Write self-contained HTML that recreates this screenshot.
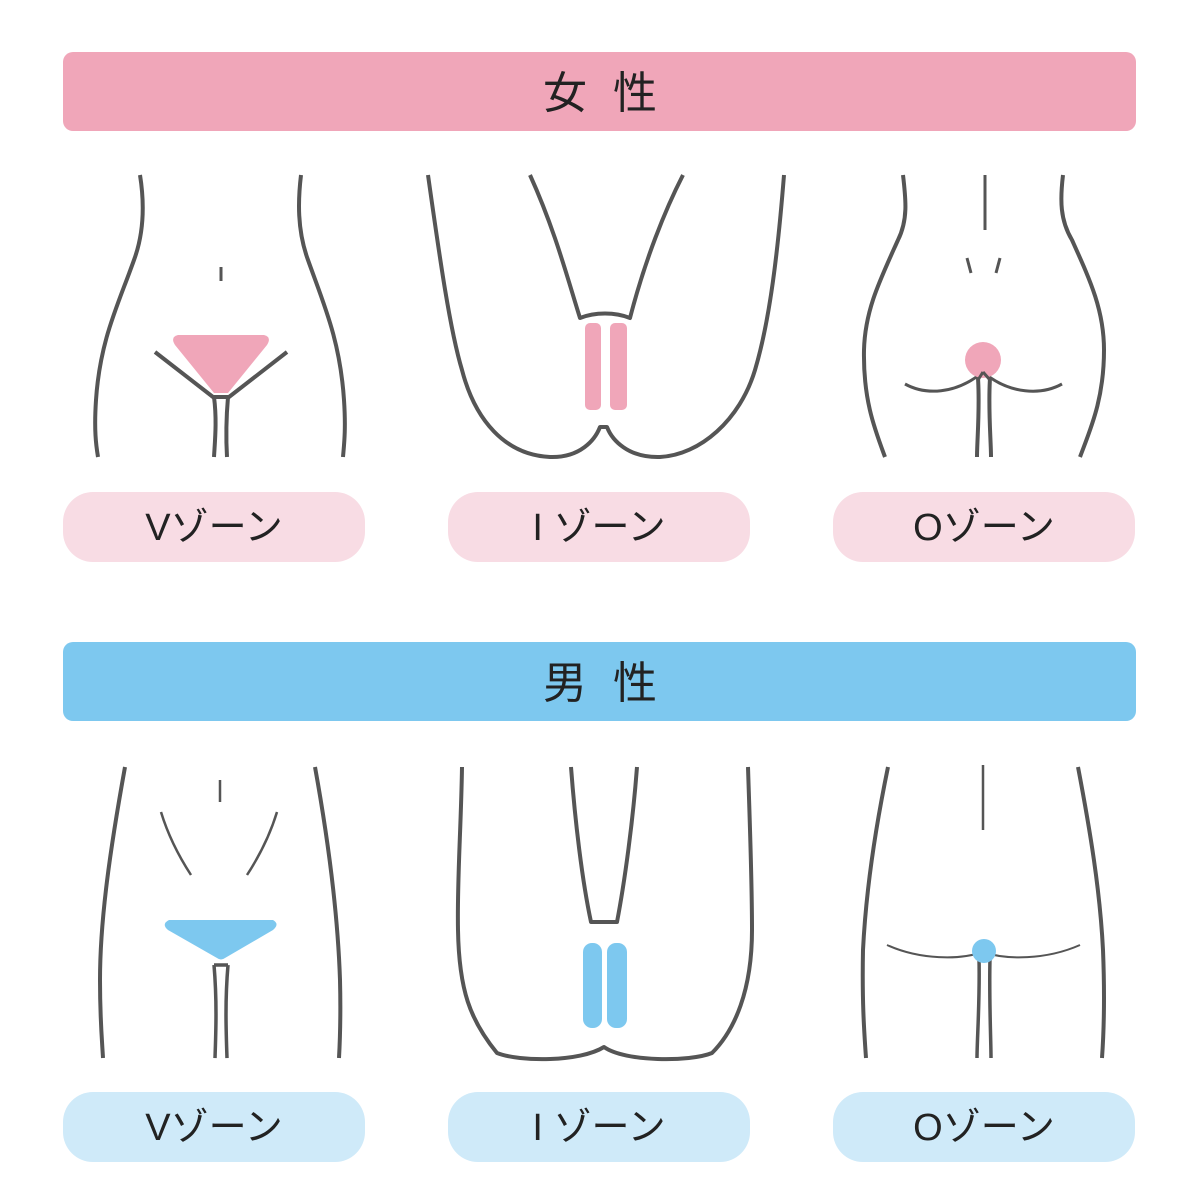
<!DOCTYPE html>
<html><head><meta charset="utf-8"><style>
body{margin:0;background:#fff}
svg{display:block}
text{font-family:"Liberation Sans","Noto Sans CJK JP",sans-serif;fill:#222}
</style></head><body>
<svg width="1199" height="1199" viewBox="0 0 1199 1199" xmlns="http://www.w3.org/2000/svg">
<rect x="63" y="52" width="1073" height="79" rx="10" fill="#f0a6b9"/>
<text x="565" y="108" font-size="44" text-anchor="middle">女</text>
<text x="635" y="108" font-size="44" text-anchor="middle">性</text>
<rect x="63" y="642" width="1073" height="79" rx="10" fill="#7dc8ef"/>
<text x="565" y="698" font-size="44" text-anchor="middle">男</text>
<text x="635" y="698" font-size="44" text-anchor="middle">性</text>

<g font-size="38" text-anchor="middle">
<rect x="63" y="492" width="302" height="70" rx="30" fill="#f8dce4"/>
<rect x="448" y="492" width="302" height="70" rx="30" fill="#f8dce4"/>
<rect x="833" y="492" width="302" height="70" rx="30" fill="#f8dce4"/>
<text x="214" y="540">Vゾーン</text><text x="599" y="540">I ゾーン</text><text x="984" y="540">Oゾーン</text>
<rect x="63" y="1092" width="302" height="70" rx="30" fill="#cfeaf9"/>
<rect x="448" y="1092" width="302" height="70" rx="30" fill="#cfeaf9"/>
<rect x="833" y="1092" width="302" height="70" rx="30" fill="#cfeaf9"/>
<text x="214" y="1140">Vゾーン</text><text x="599" y="1140">I ゾーン</text><text x="984" y="1140">Oゾーン</text>
</g>

<g fill="none" stroke="#555" stroke-width="4" stroke-linejoin="round">
<path d="M140,175 C144,200 145,230 134,260 C118,305 100,340 96,400 C94,430 96,445 98,457"/>
<path d="M301,175 C298,200 297,230 308,260 C324,305 340,340 344,400 C346,430 344,445 343,457"/>
<path d="M155,352 L213,397 L229,397 L287,352"/>
<path d="M214,397 C217,420 215,440 214,457 M228,397 C226,420 226,440 227,457"/>
<path d="M221,267 L221,281" stroke-width="3"/>
<path d="M428,175 C440,260 450,330 462,370 C475,420 505,455 550,457 C580,458 595,440 600,427 L607,427 C612,440 628,458 660,457 C700,455 740,420 755,370 C770,320 778,250 784,175"/>
<path d="M530,175 C555,230 568,280 580,318 C595,312 615,312 630,318 C645,260 665,210 683,175"/>
<path d="M903,175 C906,200 908,220 898,240 C880,280 865,310 864,350 C863,400 875,430 885,457"/>
<path d="M1063,175 C1060,200 1060,220 1072,240 C1090,280 1104,310 1104,350 C1104,400 1090,430 1080,457"/>
<path d="M985,175 L985,230" stroke-width="3"/>
<path d="M967,258 L971,273 M1000,258 L996,273" stroke-width="3"/>
<path d="M905,384 C925,395 955,395 983,372 C1010,395 1042,395 1062,384" stroke-width="3"/>
<path d="M978,378 C980,410 977,440 977,457 M990,378 C988,410 991,440 991,457"/>
<path d="M125,767 C110,850 100,920 100,980 C100,1020 102,1040 103,1058"/>
<path d="M315,767 C330,850 338,920 340,980 C341,1020 340,1040 339,1058"/>
<path d="M220,780 L220,802" stroke-width="2.5"/>
<path d="M161,812 C168,835 178,855 191,875 M277,812 C270,835 260,855 247,875" stroke-width="2.5"/>
<path d="M214,965 L228,965 M214,965 C217,1000 216,1030 215,1058 M228,965 C225,1000 226,1030 227,1058" stroke-width="3.5"/>
<path d="M462,767 C461,830 457,880 458,930 C459,990 470,1020 497,1053 C520,1062 580,1062 604,1047 C625,1062 690,1062 712,1053 C735,1030 752,990 752,930 C752,880 750,830 748,767"/>
<path d="M571,767 C575,820 582,880 591,922 L617,922 C625,880 633,820 637,767"/>
<path d="M888,767 C875,830 866,890 863,950 C862,1000 864,1030 866,1058"/>
<path d="M1078,767 C1090,830 1100,890 1103,950 C1105,1000 1104,1030 1102,1058"/>
<path d="M983,765 L983,830" stroke-width="2.5"/>
<path d="M887,945 C920,960 960,960 983,952 C1006,960 1046,960 1080,945" stroke-width="2"/>
<path d="M979,958 C980,1000 977,1040 977,1058 M990,958 C989,1000 991,1040 991,1058" stroke-width="3.5"/>
</g>

<path d="M178,335 L264,335 Q272,337 267,345 L228,393 L214,393 L175,345 Q170,337 178,335 Z" fill="#f0a6b9"/>
<rect x="585" y="323" width="16" height="87" rx="5" fill="#f0a6b9"/>
<rect x="610" y="323" width="17" height="87" rx="5" fill="#f0a6b9"/>
<circle cx="983" cy="360" r="18" fill="#f0a6b9"/>
<path d="M983,372 L978,380 M983,372 L990,380" stroke="#555" stroke-width="3"/>
<path d="M169,920 L273,920 Q280,924 273,930 L225,958 Q221,961 217,958 L168,930 Q161,924 169,920 Z" fill="#7dc8ef"/>
<rect x="583" y="943" width="19" height="85" rx="9" fill="#7dc8ef"/>
<rect x="607" y="943" width="20" height="85" rx="9" fill="#7dc8ef"/>
<circle cx="984" cy="951" r="12" fill="#7dc8ef"/>
</svg>
</body></html>
